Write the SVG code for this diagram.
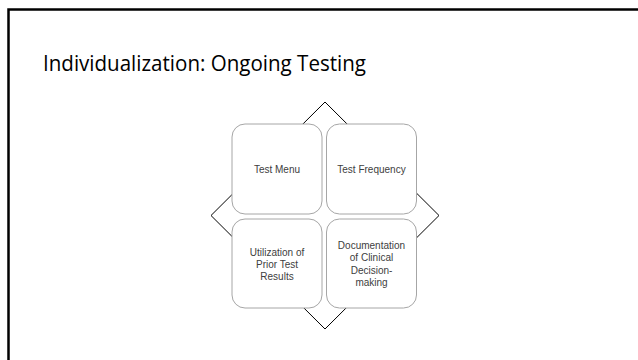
<svg xmlns="http://www.w3.org/2000/svg" width="638" height="360" viewBox="0 0 638 360">
<style>
.box{fill:#ffffff;stroke:#a6a6a6;stroke-width:1}
.lbl{font-family:"Liberation Sans",Arial,sans-serif;font-size:10px;fill:#404040;text-anchor:middle}
.title{font-family:"Open Sans","Liberation Sans",sans-serif;font-size:22px;fill:#000000}
</style>
<rect width="638" height="360" fill="#ffffff"/>
<rect x="8.5" y="9.5" width="700" height="400" fill="none" stroke="#000000" stroke-width="2.5"/>
<text class="title" x="43" y="71" textLength="323" lengthAdjust="spacingAndGlyphs">Individualization: Ongoing Testing</text>
<g id="diamond">
<polygon points="325,102 439,215.5 325,329 211,215.5" fill="none" stroke="#000000" stroke-width="1"/>
</g>
<g id="test-menu">
<rect class="box" x="232" y="124" width="90" height="90" rx="13"/>
<text class="lbl" x="277" y="173">Test Menu</text>
</g>
<g id="test-frequency">
<rect class="box" x="326.5" y="124" width="90" height="90" rx="13"/>
<text class="lbl" x="371.5" y="173">Test Frequency</text>
</g>
<g id="utilization">
<rect class="box" x="232" y="219" width="90" height="89" rx="13"/>
<text class="lbl" x="277" y="256">Utilization of</text>
<text class="lbl" x="277" y="268">Prior Test</text>
<text class="lbl" x="277" y="280">Results</text>
</g>
<g id="documentation">
<rect class="box" x="326.5" y="219" width="90" height="89" rx="13"/>
<text class="lbl" x="371.5" y="249">Documentation</text>
<text class="lbl" x="371.5" y="261">of Clinical</text>
<text class="lbl" x="371.5" y="274">Decision-</text>
<text class="lbl" x="371.5" y="286">making</text>
</g>
</svg>
